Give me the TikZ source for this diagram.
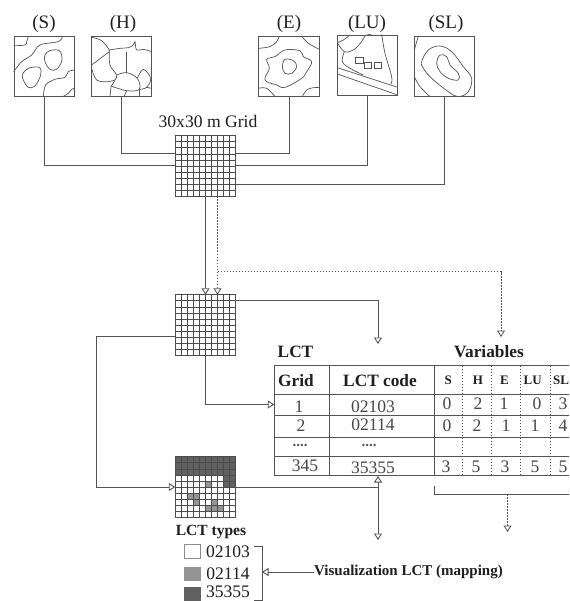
\documentclass[tikz,border=0pt]{standalone}
\usepackage{fontspec}
\setmainfont{Liberation Serif}
\usetikzlibrary{arrows.meta,calc}
\definecolor{ln}{gray}{0.33}
\definecolor{txt}{gray}{0.12}
\tikzset{
  mapbox/.style={draw=ln,line width=0.8pt,fill=white,minimum width=#1,minimum height=60pt,inner sep=0pt,outer sep=0pt},
  mapbox/.default=60pt,
  gridbox/.style={minimum width=60.5pt,minimum height=60.5pt,inner sep=0pt,outer sep=0pt},
  contour/.style={draw=ln,line width=0.7pt,smooth,tension=0.6},
  conn/.style={draw=ln,line width=0.9pt},
  dotconn/.style={draw=ln,line width=0.8pt,dash pattern=on 1.6pt off 1.4pt},
  tip/.style={-{Triangle[open,length=6.5pt,width=8pt,fill=white]}},
  rule/.style={draw=ln,line width=0.9pt},
  dotrule/.style={draw=black!70,line width=0.8pt,dash pattern=on 1.6pt off 1.4pt},
  lab/.style={font=\fontsize{17.6}{17}\selectfont,text=txt,inner sep=0pt},
  maplab/.style={font=\fontsize{19}{19}\selectfont,text=txt,inner sep=0pt},
  blab/.style={font=\fontsize{17.3}{17}\selectfont\bfseries,text=txt,inner sep=0pt},
  hlab/.style={font=\fontsize{13}{13}\selectfont\bfseries,text=txt,inner sep=0pt},
  vlab/.style={font=\fontsize{17.6}{17}\selectfont,text=black!72,inner sep=0pt},
  dots/.style={font=\fontsize{15}{15}\selectfont\bfseries,text=black!65,inner sep=0pt},
  zoomed/.style={x=0.33333pt,y=-0.33333pt},
}
\newcommand{\cellgrid}[1]{%
  \foreach \i in {0,...,10} {
    \draw[draw=black!70,line width=0.7pt] ($(#1.south west)!\i/10!(#1.south east)$) -- ($(#1.north west)!\i/10!(#1.north east)$);
    \draw[draw=black!70,line width=0.7pt] ($(#1.south west)!\i/10!(#1.north west)$) -- ($(#1.south east)!\i/10!(#1.north east)$);
  }}
\begin{document}
\begin{tikzpicture}[x=1pt,y=-1pt]
\useasboundingbox (0,0) rectangle (569,601);
\fill[white] (0,0) rectangle (569,601);
% map frames
\node[mapbox] (S) at (44,66.5) {};
\node[mapbox] (H) at (121.5,66.5) {};
\node[mapbox=61pt] (E) at (289,66.5) {};
\node[mapbox] (LU) at (367.5,65) {};
\node[mapbox] (SL) at (444.5,66.5) {};
% contours
\begin{scope}[zoomed]
 \draw[contour] plot coordinates {(41,137)(75,135)(80,125)(85,109)};
 \draw[contour] plot coordinates {(41,215)(65,185)(95,165)(120,135)(175,125)(187,109)};
 \draw[contour] plot[smooth cycle] coordinates {(135,165)(150,152)(178,152)(186,180)(170,208)(150,208)(135,185)};
 \draw[contour] plot[smooth cycle] coordinates {(68,222)(85,205)(118,202)(122,225)(105,258)(85,262)(70,240)};
 \draw[contour] plot coordinates {(130,290)(137,255)(165,238)(195,232)(205,215)(223,210)};
 \draw[contour] plot coordinates {(188,290)(205,280)(215,268)(223,265)};
 % H
 \draw[contour] plot coordinates {(275,112)(305,122)(328,150)};
 \draw[contour] (275,195) -- (328,155);
 \draw[contour] plot coordinates {(328,150)(360,145)(385,143)(400,135)(405,125)(410,150)(430,148)(455,155)};
 \draw[contour] plot coordinates {(328,150)(330,195)(350,225)(345,240)(333,260)};
 \draw[contour,line width=1pt] (380,155) -- (380,218);
 \draw[contour] plot coordinates {(350,225)(380,218)(412,235)(418,268)(380,272)(333,258)};
 \draw[contour] plot coordinates {(275,205)(290,240)(325,245)(345,240)};
 \draw[contour] plot coordinates {(412,235)(430,208)(452,235)(440,262)(418,268)};
 \draw[contour] (440,262) -- (455,265);
 \draw[contour] (333,260) -- (330,290);
 \draw[contour] (380,272) -- (372,290);
 \draw[contour] (418,268) -- (418,290);
\end{scope}
\begin{scope}[zoomed,xshift=285pt]
 % E
 \draw[contour] plot coordinates {(-80,145)(-45,140)(-25,125)(-17,109)};
 \draw[contour] plot[smooth cycle] coordinates {(0,150)(45,152)(55,170)(80,185)(65,215)(50,235)(0,262)(-25,255)(-60,240)(-47,205)(-55,178)(-30,170)};
 \draw[contour] plot[smooth cycle] coordinates {(0,178)(25,182)(35,200)(20,220)(0,220)(-8,200)};
 \draw[contour] plot coordinates {(50,109)(70,130)(103,148)};
 \draw[contour] plot coordinates {(52,290)(65,270)(85,263)(103,263)};
 \draw[contour] plot coordinates {(-80,265)(-55,265)(-30,290)};
 % LU
 \draw[contour] plot coordinates {(157,128)(175,120)(195,105)};
 \draw[contour] plot coordinates {(157,128)(178,155)(205,150)(230,125)(240,108)(258,103)};
 \draw[contour] plot coordinates {(178,155)(172,185)(195,205)(235,225)};
 \draw[contour] (157,203) -- (338,262);
 \draw[contour] (157,222) -- (335,284);
 \draw[contour] plot coordinates {(290,103)(300,160)(320,230)(318,252)};
 \draw[contour] (212,173) rectangle (234,190);
 \draw[contour] (238,188) rectangle (260,204);
 \draw[contour] (268,188) rectangle (290,204);
 % SL
 \draw[contour] plot coordinates {(388,150)(395,125)(400,109)};
 \draw[contour] plot coordinates {(388,230)(405,260)(435,290)};
 \draw[contour] plot[smooth cycle] coordinates {(410,185)(430,150)(465,138)(500,155)(535,200)(560,235)(550,275)(520,290)(490,275)(440,235)(415,205)};
 \draw[contour] plot[smooth cycle] coordinates {(455,190)(465,165)(485,170)(495,195)(520,220)(520,240)(490,235)(465,215)};
\end{scope}
% map labels
\node[maplab] (tS) at (44,24) {(S)};
\node[maplab] (tH) at (123,24) {(H)};
\node[maplab] (tE) at (289,24) {(E)};
\node[maplab] (tLU) at (367,24) {(LU)};
\node[maplab] (tSL) at (446,24) {(SL)};
\node[lab] (tGrid) at (208,121) {30x30 m Grid};
% grids
\node[gridbox] (G1) at (205.5,166) {};
\node[gridbox] (G2) at (205.5,325) {};
\node[gridbox] (G3) at (205.5,487) {};
% table anchors
\coordinate (T1) at (274.3,404.5);
\coordinate (Tb) at (378,476);
\coordinate (Tj) at (378,487);
\coordinate (Td1) at (378,540);
\coordinate (Lct) at (378,344);
\coordinate (Var) at (501,337);
\coordinate (Bk) at (507.5,494);
\coordinate (Bkd) at (507.5,532);
\coordinate (Dj) at (217.5,271.5);
\coordinate (Dt) at (217.5,196.5);
\coordinate (Lc) at (96,336.5);
% connectors
\draw[conn] (S.south) |- ([yshift=1pt]G1.west);
\draw[conn] (H.south) |- ([yshift=12.5pt]G1.west);
\draw[conn] (E.south) |- ([yshift=12.5pt]G1.east);
\draw[conn] (LU.south) |- ([yshift=1pt]G1.east);
\draw[conn] (SL.south) |- ([yshift=-18pt]G1.east);
\draw[conn,tip] (G1.south) -- (G2.north);
\draw[dotconn,tip] (Dt) -- (Dt |- G2.north);
\draw[dotconn,tip] (Dj) -| (Var);
\draw[conn,tip] ([yshift=25pt]G2.east) -| (Lct);
\draw[conn,tip] (G2.south) |- (T1);
\draw[conn] (G2.west |- Lc) -- (Lc);
\draw[conn,tip] (Lc) |- (G3.west);
\draw[conn] (G3.east) -- (Tj);
\draw[conn,tip] (Tj) -- (Tb);
\draw[conn,tip] (Tj) -- (Td1);
\draw[dotconn,tip] (Bk) -- (Bkd);
% grid 3 fills
\fill[black!62] (175.2,456.7) rectangle (235.8,475);
\fill[black!62] (223.6,475) rectangle (235.8,487);
\fill[black!42] (205.5,480.7) rectangle (211.6,487);
\fill[black!42] (187.3,493) rectangle (199.4,499);
\fill[black!42] (193.4,499) rectangle (199.4,505);
\fill[black!42] (211.6,499) rectangle (217.6,505);
\fill[black!42] (205.5,505) rectangle (223.6,511);
\cellgrid{G1}
\cellgrid{G2}
\cellgrid{G3}
% table rules
\foreach \y in {365.7,394,415.7,437,456.7,475.7} \draw[rule] (274.3,\y) -- (569,\y);
\foreach \x in {274.3,329.3,434.7} \draw[rule] (\x,365.7) -- (\x,475.7);
\foreach \x in {462.7,491.7,520.7,550.3} \draw[dotrule] (\x,365.7) -- (\x,475.7);
\draw[rule] (434.7,486) |- (569,494);
% table text
\node[blab] (hLCT) at (295.5,352) {LCT};
\node[blab] (hVar) at (489,352) {Variables};
\node[blab] (cGrid) at (296,381) {Grid};
\node[blab] (cCode) at (380,381) {LCT code};
\node[hlab] (cS) at (448.3,380) {S};
\node[hlab] (cH) at (478,380) {H};
\node[hlab] (cE) at (504.5,380) {E};
\node[hlab] (cLU) at (532.7,380) {LU};
\node[hlab] (cSL) at (561,380) {SL};
\node[vlab] (a1) at (299,407) {1};
\node[vlab] (b1) at (373,407) {02103};
\node[vlab] (a2) at (301,426) {2};
\node[vlab] (b2) at (373,425) {02114};
\node[dots] (a3) at (300,445) {....};
\node[dots] (b3) at (369,445) {....};
\node[vlab] (a4) at (305,466) {345};
\node[vlab] (b4) at (373,468) {35355};
\foreach \n/\x/\v in {a/447/0,b/478/2,c/504/1,d/537/0,e/563/3} \node[vlab] (r1\n) at (\x,404) {\v};
\foreach \n/\x/\v in {a/447/0,b/477/2,c/506/1,d/535/1,e/563/4} \node[vlab] (r2\n) at (\x,426) {\v};
\foreach \n/\x/\v in {a/446/3,b/476/5,c/505/3,d/535/5,e/563/5} \node[vlab] (r4\n) at (\x,467) {\v};
% legend
\node[blab,font=\fontsize{15.5}{15}\selectfont\bfseries] (ltypes) at (211,532) {LCT types};
\draw[draw=black!45,line width=0.8pt,fill=white] (184.5,544.5) rectangle (200.5,558);
\fill[black!42] (184.3,566.7) rectangle (201,580.7);
\fill[black!62] (184.3,587) rectangle (201,600.5);
\node[lab] (l1) at (228,552) {02103};
\node[lab] (l2) at (228,574) {02114};
\node[lab] (l3) at (228,591.5) {35355};
\draw[rule] (254,546) -- (262,546) -- (262,600) -- (254,600);
\node[blab,font=\fontsize{15}{15}\selectfont\bfseries,anchor=west] (vis) at (314,572) {Visualization LCT (mapping)};
\coordinate (Br) at (262,572);
\draw[conn,tip] (Br -| vis.west) -- (Br);
\end{tikzpicture}
\end{document}
